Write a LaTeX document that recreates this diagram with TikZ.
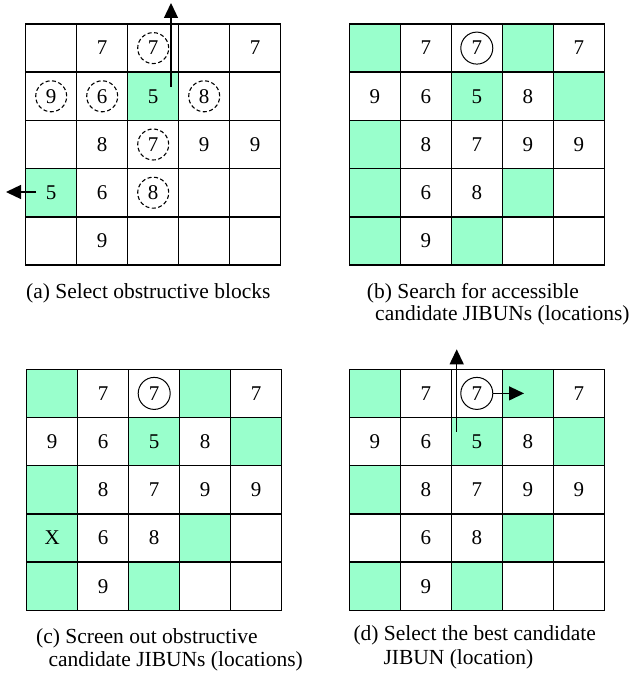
\documentclass[tikz,border=0pt]{standalone}
\usepackage{fontspec}
\setmainfont{Liberation Serif}
\usetikzlibrary{arrows.meta,calc}
\definecolor{mint}{RGB}{153,255,204}
\tikzset{
  cellbox/.style={minimum width=51pt, minimum height=48.2pt,
    inner sep=0pt, outer sep=0pt, anchor=center, font=\fontsize{21}{21}\selectfont},
  gridline/.style={draw=black, line width=1.5pt},
  dcirc/.style={circle, draw, dash pattern=on 4pt off 2.5pt, line width=1.1pt,
    minimum size=31pt, inner sep=0pt, font=\fontsize{21}{21}\selectfont},
  scirc/.style={circle, draw, line width=1pt, minimum size=32pt, inner sep=0pt,
    font=\fontsize{21}{21}\selectfont},
  arr/.style={line width=1.3pt, -{Triangle[length=15pt,width=14pt]}},
  captext/.style={anchor=west, inner sep=0pt, font=\fontsize{21.5}{24}\selectfont},
}
\newcommand{\drawgrid}[4]{%
  \foreach \r/\c/\f/\t in {#4} {
    \node[cellbox, fill=\f] (#1-\r-\c) at ({#2+(\c-0.5)*51}, {#3+(\r-0.5)*48.2}) {\t};
  }
  \foreach \r in {1,...,5} {
    \foreach \c in {1,...,5} {
      \draw[gridline] (#1-\r-\c.north west) rectangle (#1-\r-\c.south east);
    }
  }}
\begin{document}
\begin{tikzpicture}[x=1pt,y=-1pt]
\useasboundingbox (0,0) rectangle (629,674);
% ---------- (a) ----------
\drawgrid{a}{25.7}{24}{1/1/white/{},1/2/white/7,1/3/white/{},1/4/white/{},1/5/white/7,
  2/1/white/{},2/2/white/{},2/3/mint/5,2/4/white/{},2/5/white/{},
  3/1/white/{},3/2/white/8,3/3/white/{},3/4/white/9,3/5/white/9,
  4/1/mint/5,4/2/white/6,4/3/white/{},4/4/white/{},4/5/white/{},
  5/1/white/{},5/2/white/9,5/3/white/{},5/4/white/{},5/5/white/{}}
\node[dcirc] (a-c13) at (a-1-3) {7};
\node[dcirc] (a-c21) at (a-2-1) {9};
\node[dcirc] (a-c22) at (a-2-2) {6};
\node[dcirc] (a-c24) at (a-2-4) {8};
\node[dcirc] (a-c33) at (a-3-3) {7};
\node[dcirc] (a-c43) at (a-4-3) {8};
\coordinate (a-up0) at (171,86.7);
\coordinate (a-up1) at (171,3);
\draw[arr] (a-up0) -- (a-up1);
\coordinate (a-lf0) at (36,192);
\coordinate (a-lf1) at (6,192);
\draw[arr] (a-lf0) -- (a-lf1);
\node[captext] (a-cap) at (26,293) {(a) Select obstructive blocks};
% ---------- (b) ----------
\drawgrid{b}{349.3}{24}{1/1/mint/{},1/2/white/7,1/3/white/{},1/4/mint/{},1/5/white/7,
  2/1/white/9,2/2/white/6,2/3/mint/5,2/4/white/8,2/5/mint/{},
  3/1/mint/{},3/2/white/8,3/3/white/7,3/4/white/9,3/5/white/9,
  4/1/mint/{},4/2/white/6,4/3/white/8,4/4/mint/{},4/5/white/{},
  5/1/mint/{},5/2/white/9,5/3/mint/{},5/4/white/{},5/5/white/{}}
\node[scirc] (b-c13) at (b-1-3) {7};
\node[captext] (b-cap1) at (366.7,293.3) {(b) Search for accessible};
\node[captext] (b-cap2) at (375,315) {candidate JIBUNs (locations)};
% ---------- (c) ----------
\drawgrid{c}{26.7}{369.3}{1/1/mint/{},1/2/white/7,1/3/white/{},1/4/mint/{},1/5/white/7,
  2/1/white/9,2/2/white/6,2/3/mint/5,2/4/white/8,2/5/mint/{},
  3/1/mint/{},3/2/white/8,3/3/white/7,3/4/white/9,3/5/white/9,
  4/1/mint/X,4/2/white/6,4/3/white/8,4/4/mint/{},4/5/white/{},
  5/1/mint/{},5/2/white/9,5/3/mint/{},5/4/white/{},5/5/white/{}}
\node[scirc] (c-c13) at (c-1-3) {7};
\node[captext] (c-cap1) at (36,638.3) {(c) Screen out obstructive};
\node[captext] (c-cap2) at (48.3,661.7) {candidate JIBUNs (locations)};
% ---------- (d) ----------
\drawgrid{d}{349.3}{369.3}{1/1/mint/{},1/2/white/7,1/3/white/{},1/4/mint/{},1/5/white/7,
  2/1/white/9,2/2/white/6,2/3/mint/5,2/4/white/8,2/5/mint/{},
  3/1/mint/{},3/2/white/8,3/3/white/7,3/4/white/9,3/5/white/9,
  4/1/white/{},4/2/white/6,4/3/white/8,4/4/mint/{},4/5/white/{},
  5/1/mint/{},5/2/white/9,5/3/mint/{},5/4/white/{},5/5/white/{}}
\node[scirc] (d-c13) at (d-1-3) {7};
\coordinate (d-rt1) at (524,393.4);
\draw[arr] (d-c13.east) -- (d-rt1);
\coordinate (d-up0) at (456.7,431.7);
\coordinate (d-up1) at (456.7,349.3);
\draw[arr] (d-up0) -- (d-up1);
\node[captext] (d-cap1) at (353.3,635) {(d) Select the best candidate};
\node[captext] (d-cap2) at (383.3,659.3) {JIBUN (location)};
\end{tikzpicture}
\end{document}
